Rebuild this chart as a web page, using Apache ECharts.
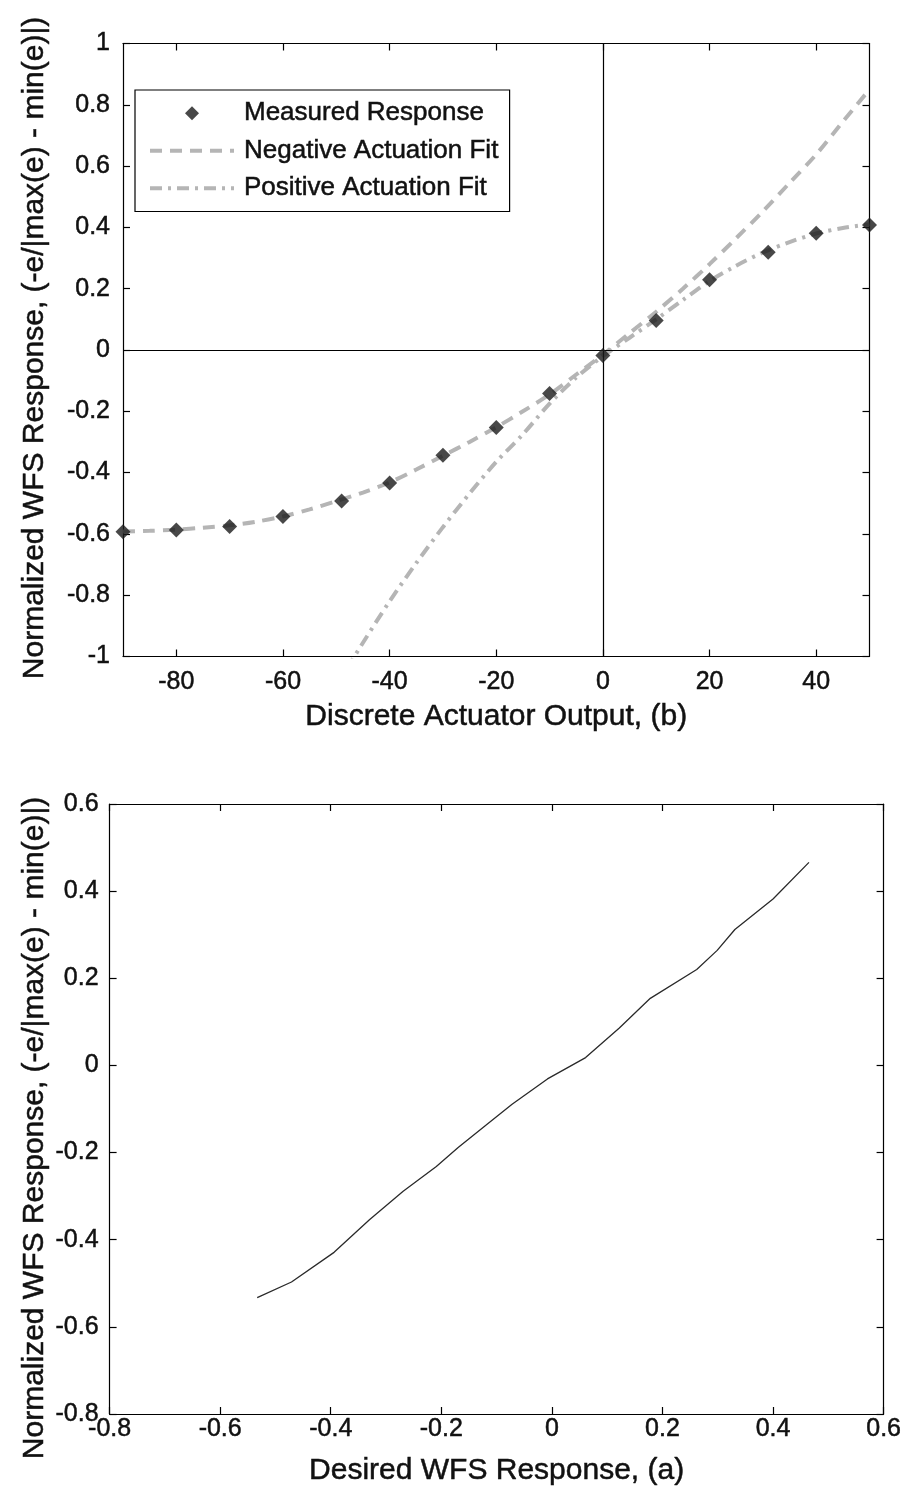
<!DOCTYPE html>
<html>
<head>
<meta charset="utf-8">
<script src="https://cdn.jsdelivr.net/npm/echarts@6/dist/echarts.min.js"></script>
<style>
  html, body { margin: 0; padding: 0; background: #fff; }
  #chart { width: 908px; height: 1490px; }
</style>
</head>
<body>
<div id="chart"></div>
<script>
// ---- Top panel: WFS response vs. discrete actuator output ----
const actuatorOutput = [-90, -80, -70, -60, -49, -40, -30, -20, -10, 0, 10, 20, 31, 40, 50];
const measuredResponse = [-0.593, -0.587, -0.576, -0.543, -0.493, -0.434, -0.343, -0.253, -0.142, -0.018, 0.096, 0.229, 0.319, 0.381, 0.408];

// Polynomial fit to the negative-actuation measurements
const negFitX = [-90, -85, -80, -75, -70, -65, -60, -55, -50, -45, -40, -35, -30, -25, -20, -15, -10, -5, 0, 5, 10, 15, 20, 25, 30, 35, 40, 45, 50];
const negFitY = [-0.592, -0.59, -0.586, -0.58, -0.572, -0.56, -0.543, -0.52, -0.493, -0.465, -0.432, -0.39, -0.345, -0.3, -0.252, -0.2, -0.145, -0.08, -0.015, 0.055, 0.125, 0.2, 0.28, 0.365, 0.452, 0.545, 0.638, 0.745, 0.85];

// Polynomial fit to the positive-actuation measurements
const posFitX = [-48, -45, -40, -35, -30, -25, -20, -15, -10, -5, 0, 5, 10, 15, 20, 25, 30, 35, 40, 45, 50];
const posFitY = [-1.04, -0.955, -0.82, -0.695, -0.578, -0.468, -0.365, -0.275, -0.175, -0.09, -0.02, 0.04, 0.1, 0.163, 0.225, 0.275, 0.318, 0.352, 0.38, 0.398, 0.41];

const topXTicks = [-80, -60, -40, -20, 0, 20, 40];

// ---- Bottom panel: achieved vs. desired WFS response ----
const desiredResponse = [-0.533, -0.471, -0.394, -0.33, -0.269, -0.209, -0.169, -0.12, -0.072, -0.008, 0.061, 0.122, 0.178, 0.262, 0.299, 0.331, 0.4, 0.465];
const achievedResponse = [-0.533, -0.497, -0.429, -0.354, -0.289, -0.232, -0.188, -0.138, -0.089, -0.031, 0.018, 0.086, 0.154, 0.22, 0.264, 0.312, 0.382, 0.466];

const yTitle = 'Normalized WFS Response, (-e/|max(e) - min(e)|)';

const FONT = '"Liberation Sans", Arial, Helvetica, sans-serif';
const INK = '#111';
const FIT_GREY = '#b5b5b5';

// slightly heavier strokes on the glyphs
const inkText = { color: INK, fontFamily: FONT, textBorderColor: INK, textBorderWidth: 0.5 };

function pairs(xs, ys) { return xs.map((x, i) => [x, ys[i]]); }

function boxAxis(gridIndex, position, min, max, interval, opts) {
  opts = opts || {};
  const showLabel = opts.showLabel !== false;
  const ax = {
    type: 'value', gridIndex: gridIndex, position: position,
    min: min, max: max, interval: interval,
    splitLine: { show: false },
    axisLine: { show: true, onZero: false, lineStyle: { color: '#000', width: 1.2 } },
    axisTick: { show: true, inside: true, length: 7, lineStyle: { color: '#000', width: 1.2 } },
    axisLabel: Object.assign({
      show: showLabel, margin: opts.margin == null ? 12 : opts.margin,
      fontSize: 25, showMinLabel: true, showMaxLabel: true
    }, inkText)
  };
  if (opts.custom) {
    ax.axisTick.customValues = opts.custom;
    ax.axisLabel.customValues = opts.custom;
  }
  if (opts.name) {
    ax.name = opts.name;
    ax.nameLocation = 'middle';
    ax.nameGap = opts.nameGap;
    ax.nameTextStyle = Object.assign({ fontSize: 30 }, inkText);
  }
  return ax;
}

const chart = echarts.init(document.getElementById('chart'), null, { renderer: 'canvas' });

const hiddenMarker = { color: 'rgba(0,0,0,0)', borderWidth: 0, opacity: 0 };

const option = {
  animation: false,
  backgroundColor: '#fff',
  grid: [
    { left: 123, top: 43.5, width: 746.5, height: 613 },
    { left: 109.6, top: 804, width: 774, height: 610 }
  ],
  xAxis: [
    boxAxis(0, 'bottom', -90, 50, 10, { custom: topXTicks, margin: 13, name: 'Discrete Actuator Output, (b)', nameGap: 45 }),
    boxAxis(0, 'top', -90, 50, 10, { custom: topXTicks, showLabel: false }),
    boxAxis(1, 'bottom', -0.8, 0.6, 0.2, { margin: 3, name: 'Desired WFS Response, (a)', nameGap: 42 }),
    boxAxis(1, 'top', -0.8, 0.6, 0.2, { showLabel: false })
  ],
  yAxis: [
    boxAxis(0, 'left', -1, 1, 0.2, { margin: 13 }),
    boxAxis(0, 'right', -1, 1, 0.2, { showLabel: false }),
    boxAxis(1, 'left', -0.8, 0.6, 0.2, { margin: 11 }),
    boxAxis(1, 'right', -0.8, 0.6, 0.2, { showLabel: false })
  ],
  legend: {
    orient: 'vertical',
    left: 135, top: 90,
    padding: [10, 11, 10, 13],
    itemGap: 11,
    itemWidth: 84,
    itemHeight: 14,
    backgroundColor: '#fff',
    borderColor: '#000',
    borderWidth: 1.2,
    borderRadius: 0,
    lineStyle: { width: 4 },
    textStyle: Object.assign({ fontSize: 26, padding: [0, 0, 0, 5] }, inkText),
    data: [
      { name: 'Measured Response', icon: 'path://M0,-1L1,0L0,1L-1,0Z' },
      { name: 'Negative Actuation Fit', itemStyle: hiddenMarker },
      { name: 'Positive Actuation Fit', itemStyle: hiddenMarker }
    ]
  },
  graphic: [
    {
      type: 'text', x: 35, y: 348, rotation: Math.PI / 2,
      style: { text: yTitle, fontSize: 30, fontFamily: FONT, fill: INK, stroke: INK, lineWidth: 0.5, align: 'center', verticalAlign: 'middle' }
    },
    {
      type: 'text', x: 35, y: 1128, rotation: Math.PI / 2,
      style: { text: yTitle, fontSize: 30, fontFamily: FONT, fill: INK, stroke: INK, lineWidth: 0.5, align: 'center', verticalAlign: 'middle' }
    }
  ],
  series: [
    {
      name: 'Negative Actuation Fit', type: 'line', xAxisIndex: 0, yAxisIndex: 0,
      data: pairs(negFitX, negFitY), symbol: 'none', smooth: 0.3, z: 3,
      lineStyle: { color: FIT_GREY, width: 4, type: [12, 8] },
      itemStyle: { color: FIT_GREY }
    },
    {
      name: 'Positive Actuation Fit', type: 'line', xAxisIndex: 0, yAxisIndex: 0,
      data: pairs(posFitX, posFitY), symbol: 'none', smooth: 0.3, z: 3,
      lineStyle: { color: FIT_GREY, width: 4, type: [12, 6, 3, 6] },
      itemStyle: { color: FIT_GREY }
    },
    {
      name: 'Measured Response', type: 'scatter', xAxisIndex: 0, yAxisIndex: 0,
      data: pairs(actuatorOutput, measuredResponse),
      symbol: 'diamond', symbolSize: 15, z: 5,
      itemStyle: { color: '#1a1a1a' },
      markLine: {
        silent: true, symbol: ['none', 'none'], animation: false,
        label: { show: false },
        lineStyle: { color: '#000', width: 1.2, type: 'solid' },
        emphasis: { disabled: true },
        data: [{ xAxis: 0 }, { yAxis: 0 }]
      }
    },
    {
      name: 'Achieved', type: 'line', xAxisIndex: 2, yAxisIndex: 2,
      data: pairs(desiredResponse, achievedResponse), symbol: 'none',
      lineStyle: { color: '#2a2a2a', width: 1.3 }
    }
  ]
};

chart.setOption(option);
</script>
</body>
</html>
